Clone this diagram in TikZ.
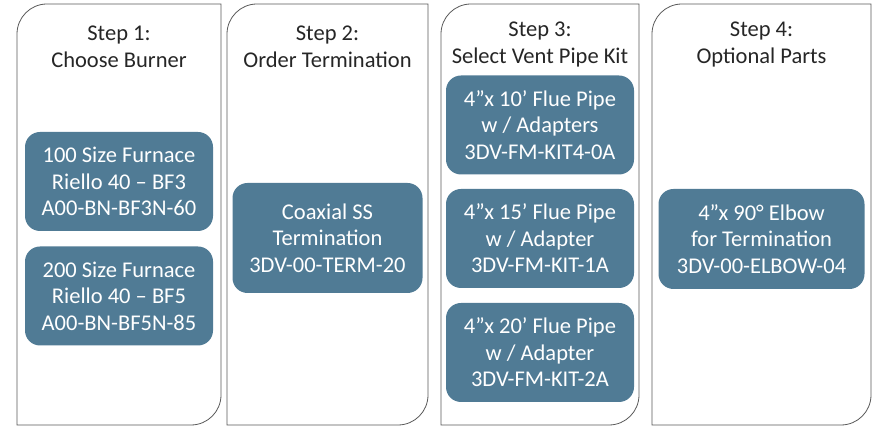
\documentclass[tikz,border=0pt]{standalone}
\usepackage{fontspec}
\setmainfont{Carlito}
\usetikzlibrary{positioning}
\definecolor{veldblauw}{HTML}{507B95}

\begin{document}
\begin{tikzpicture}[x=1pt,y=1pt]
\tikzstyle{kader} = [draw=black!65, line width=0.8pt]
\tikzstyle{kop} = [align=center, text=black!85, inner sep=0pt, font=\fontsize{22.5}{27}\selectfont]
\tikzstyle{veld} = [fill=veldblauw, text=white, rounded corners=15pt, align=center, minimum width=188pt, minimum height=99pt, font=\fontsize{22.5}{26.5}\selectfont]

\useasboundingbox (0,0) rectangle (873,427);

% kaders
\draw [kader] (17,2) -- (17,393) arc [start angle=180, end angle=90, radius=30] -- (221,423) -- (221,32) arc [start angle=0, end angle=-90, radius=30] -- cycle;
\draw [kader] (227,2) -- (227,393) arc [start angle=180, end angle=90, radius=30] -- (428,423) -- (428,32) arc [start angle=0, end angle=-90, radius=30] -- cycle;
\draw [kader] (441,2) -- (441,393) arc [start angle=180, end angle=90, radius=30] -- (639,423) -- (639,32) arc [start angle=0, end angle=-90, radius=30] -- cycle;
\draw [kader] (652,2) -- (652,393) arc [start angle=180, end angle=90, radius=30] -- (871,423) -- (871,32) arc [start angle=0, end angle=-90, radius=30] -- cycle;

\node [kop] (kop1) at (119,380) {Step 1:\\Choose Burner};

\node [veld] (brander1) [below of=kop1, node distance=134.5pt] {100 Size Furnace\\Riello 40 – BF3\\A00-BN-BF3N-60};

\node [veld] (brander2) [below of=brander1, node distance=114.5pt] {200 Size Furnace\\Riello 40 – BF5\\A00-BN-BF5N-85};

\node [kop] (kop2) at (327.5,380) {Step 2:\\Order Termination};

\node [veld] (termination) [below of=kop2, node distance=191pt, minimum width=190pt, minimum height=110pt] {Coaxial SS\\Termination\\3DV-00-TERM-20};

\node [kop] (kop3) at (540,382.5) {Step 3:\\Select Vent Pipe Kit};

\node [veld] (kit1) [below of=kop3, node distance=80.5pt] {4”x 10’ Flue Pipe\\w / Adapters\\3DV-FM-KIT4-0A};

\node [veld] (kit2) [below of=kit1, node distance=113.5pt] {4”x 15’ Flue Pipe\\w / Adapter\\3DV-FM-KIT-1A};

\node [veld] (kit3) [below of=kit2, node distance=114pt] {4”x 20’ Flue Pipe\\w / Adapter\\3DV-FM-KIT-2A};

\node [kop] (kop4) at (761.5,382) {Step 4:\\Optional Parts};

\node [veld] (elbow) [below of=kop4, node distance=194pt, minimum width=206pt, minimum height=100pt] {4”x 90° Elbow\\for Termination\\3DV-00-ELBOW-04};
\end{tikzpicture}
\end{document}
